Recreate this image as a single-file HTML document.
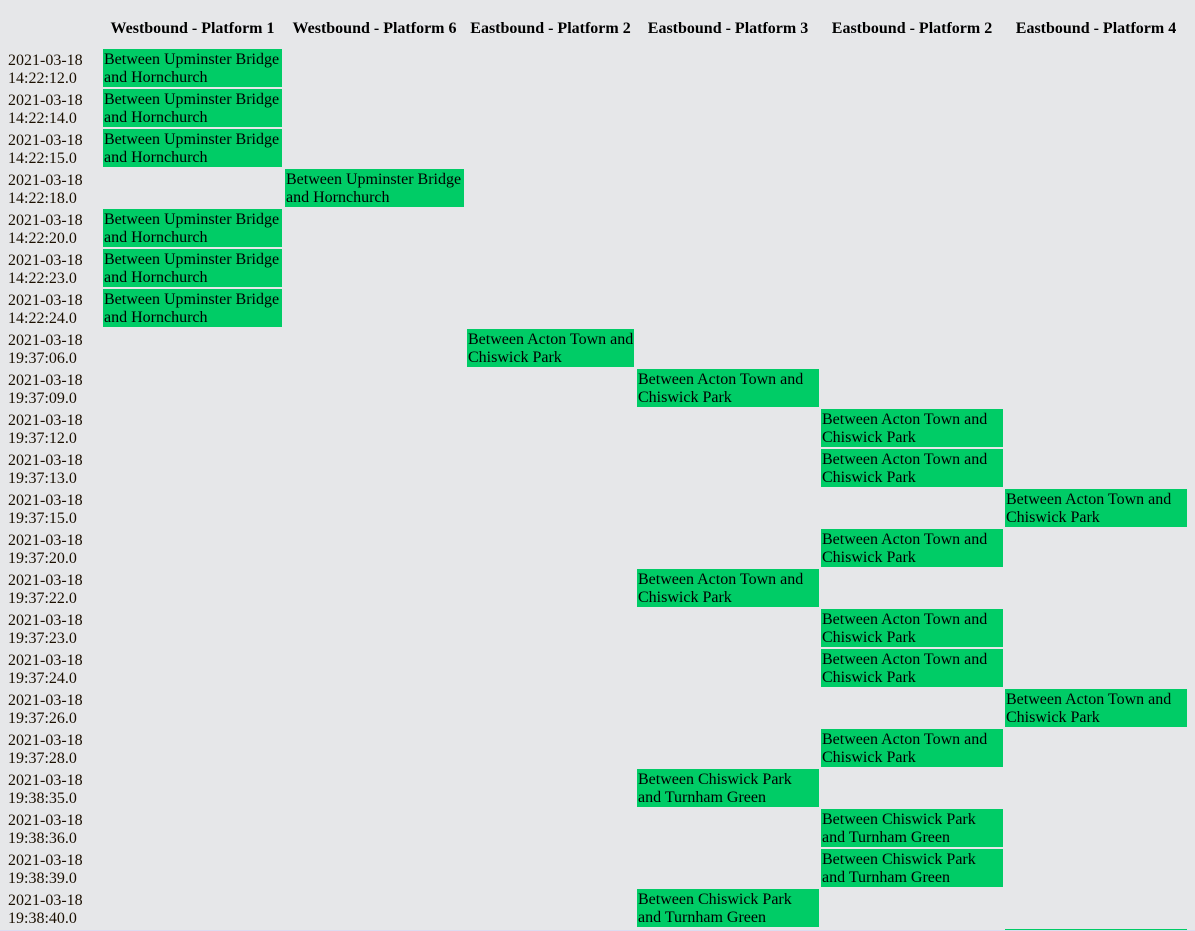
<!DOCTYPE html>
<html><head><meta charset="utf-8"><style>
html,body{margin:0;padding:0;}
body{width:1195px;height:931px;background:#e6e7e9;position:relative;overflow:hidden;font-family:"Liberation Serif",serif;font-size:16px;line-height:18px;color:#000;}
.h{position:absolute;top:20px;font-weight:bold;text-align:center;white-space:nowrap;}
.t{position:absolute;left:8px;color:#1a0f00;margin-top:1px;}
.c{position:absolute;background:#00cc66;height:38px;box-sizing:border-box;padding:2px 0 0 1px;}
.c1{left:103px;width:179px}.c2{left:285px;width:179px}.c3{left:467px;width:167px}
.c4{left:637px;width:182px}.c5{left:821px;width:182px}.c6{left:1005px;width:182px}
</style></head><body>
<div class="h" style="left:103px;width:179px">Westbound - Platform 1</div>
<div class="h" style="left:285px;width:179px">Westbound - Platform 6</div>
<div class="h" style="left:467px;width:167px">Eastbound - Platform 2</div>
<div class="h" style="left:637px;width:182px">Eastbound - Platform 3</div>
<div class="h" style="left:821px;width:182px">Eastbound - Platform 2</div>
<div class="h" style="left:1005px;width:182px">Eastbound - Platform 4</div>

<div class="t" style="top:51px">2021-03-18<br>14:22:12.0</div><div class="c c1" style="top:49px">Between Upminster Bridge and Hornchurch</div>
<div class="t" style="top:91px">2021-03-18<br>14:22:14.0</div><div class="c c1" style="top:89px">Between Upminster Bridge and Hornchurch</div>
<div class="t" style="top:131px">2021-03-18<br>14:22:15.0</div><div class="c c1" style="top:129px">Between Upminster Bridge and Hornchurch</div>
<div class="t" style="top:171px">2021-03-18<br>14:22:18.0</div><div class="c c2" style="top:169px">Between Upminster Bridge and Hornchurch</div>
<div class="t" style="top:211px">2021-03-18<br>14:22:20.0</div><div class="c c1" style="top:209px">Between Upminster Bridge and Hornchurch</div>
<div class="t" style="top:251px">2021-03-18<br>14:22:23.0</div><div class="c c1" style="top:249px">Between Upminster Bridge and Hornchurch</div>
<div class="t" style="top:291px">2021-03-18<br>14:22:24.0</div><div class="c c1" style="top:289px">Between Upminster Bridge and Hornchurch</div>
<div class="t" style="top:331px">2021-03-18<br>19:37:06.0</div><div class="c c3" style="top:329px">Between Acton Town and Chiswick Park</div>
<div class="t" style="top:371px">2021-03-18<br>19:37:09.0</div><div class="c c4" style="top:369px">Between Acton Town and Chiswick Park</div>
<div class="t" style="top:411px">2021-03-18<br>19:37:12.0</div><div class="c c5" style="top:409px">Between Acton Town and Chiswick Park</div>
<div class="t" style="top:451px">2021-03-18<br>19:37:13.0</div><div class="c c5" style="top:449px">Between Acton Town and Chiswick Park</div>
<div class="t" style="top:491px">2021-03-18<br>19:37:15.0</div><div class="c c6" style="top:489px">Between Acton Town and Chiswick Park</div>
<div class="t" style="top:531px">2021-03-18<br>19:37:20.0</div><div class="c c5" style="top:529px">Between Acton Town and Chiswick Park</div>
<div class="t" style="top:571px">2021-03-18<br>19:37:22.0</div><div class="c c4" style="top:569px">Between Acton Town and Chiswick Park</div>
<div class="t" style="top:611px">2021-03-18<br>19:37:23.0</div><div class="c c5" style="top:609px">Between Acton Town and Chiswick Park</div>
<div class="t" style="top:651px">2021-03-18<br>19:37:24.0</div><div class="c c5" style="top:649px">Between Acton Town and Chiswick Park</div>
<div class="t" style="top:691px">2021-03-18<br>19:37:26.0</div><div class="c c6" style="top:689px">Between Acton Town and Chiswick Park</div>
<div class="t" style="top:731px">2021-03-18<br>19:37:28.0</div><div class="c c5" style="top:729px">Between Acton Town and Chiswick Park</div>
<div class="t" style="top:771px">2021-03-18<br>19:38:35.0</div><div class="c c4" style="top:769px">Between Chiswick Park<br>and Turnham Green</div>
<div class="t" style="top:811px">2021-03-18<br>19:38:36.0</div><div class="c c5" style="top:809px">Between Chiswick Park<br>and Turnham Green</div>
<div class="t" style="top:851px">2021-03-18<br>19:38:39.0</div><div class="c c5" style="top:849px">Between Chiswick Park<br>and Turnham Green</div>
<div class="t" style="top:891px">2021-03-18<br>19:38:40.0</div><div class="c c4" style="top:889px">Between Chiswick Park<br>and Turnham Green</div>
<div style="position:absolute;left:1005px;width:182px;top:929px;height:1px;background:#00cc66"></div>
<div style="position:absolute;left:0;width:1195px;top:930px;height:1px;background:#dcdcf0"></div>
</body></html>
